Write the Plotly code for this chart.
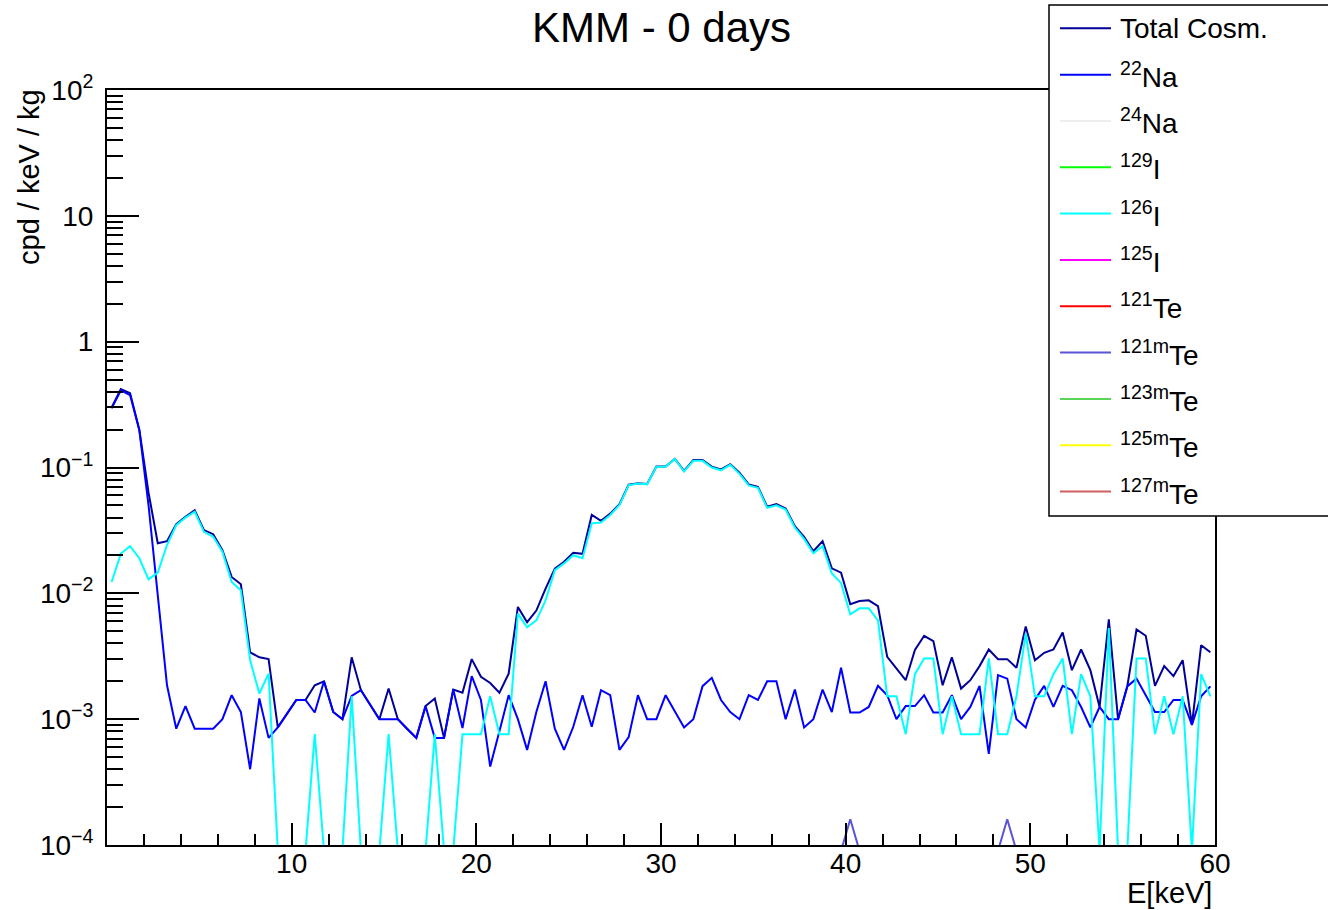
import plotly.graph_objects as go

# ---------------- data ----------------
BIN_WIDTH = 0.5  # keV
N_BINS = 120
energy = [BIN_WIDTH * (i + 0.5) for i in range(N_BINS)]  # bin centres, keV

total_cosm = [
    0.30, 0.42, 0.39, 0.20, 0.063, 0.025, 0.026, 0.0355, 0.0405, 0.0458,
    0.0318, 0.0295, 0.022, 0.0135, 0.0118, 0.0034, 0.0031, 0.0030, 0.00086, 0.0011,
    0.00142, 0.00142, 0.00186, 0.0020, 0.00114, 0.0010, 0.0031, 0.0017, 0.00129, 0.0010,
    0.00175, 0.0010, 0.00084, 0.00071, 0.00127, 0.00146, 0.00071, 0.00172, 0.00162, 0.0030,
    0.00217, 0.00194, 0.00162, 0.0023, 0.0078, 0.0059, 0.0073, 0.0109, 0.0157, 0.0178,
    0.021, 0.0206, 0.042, 0.0377, 0.043, 0.051, 0.073, 0.075, 0.074, 0.102,
    0.102, 0.117, 0.094, 0.1146, 0.1146, 0.1016, 0.0966, 0.106, 0.0908, 0.0734,
    0.0703, 0.0488, 0.0512, 0.0473, 0.0342, 0.0281, 0.0216, 0.026, 0.0158, 0.0146,
    0.0082, 0.0087, 0.0088, 0.0079, 0.00313, 0.00253, 0.00204, 0.00355, 0.0046, 0.00417,
    0.00186, 0.0031, 0.00175, 0.00204, 0.00264, 0.00358, 0.0030, 0.0030, 0.00256, 0.00545,
    0.00294, 0.00337, 0.00358, 0.00488, 0.00245, 0.00358, 0.00245, 0.00125, 0.0062, 0.0010,
    0.00182, 0.00516, 0.0046, 0.00184, 0.00264, 0.0022, 0.00294, 0.0009, 0.00387, 0.0034,
]

na22 = [
    0.295, 0.41, 0.376, 0.198, 0.05, 0.0095, 0.00186, 0.00084, 0.00127, 0.00084,
    0.00084, 0.00084, 0.0010, 0.00155, 0.00114, 0.0004, 0.00146, 0.00071, 0.00086, 0.0011,
    0.00142, 0.00142, 0.00113, 0.0020, 0.00114, 0.0010, 0.00153, 0.0017, 0.00129, 0.0010,
    0.0010, 0.0010, 0.00084, 0.00071, 0.00127, 0.00071, 0.00071, 0.00172, 0.00085, 0.0022,
    0.00142, 0.00042, 0.0008, 0.00155, 0.0010, 0.00057, 0.00114, 0.0020, 0.00084, 0.00057,
    0.00087, 0.00155, 0.00087, 0.0017, 0.00155, 0.00057, 0.00072, 0.00155, 0.0010, 0.0010,
    0.00155, 0.00116, 0.00086, 0.0010, 0.00183, 0.00213, 0.00142, 0.00114, 0.0010, 0.00155,
    0.00142, 0.0020, 0.0020, 0.0010, 0.00172, 0.00086, 0.0010, 0.00172, 0.00114, 0.00256,
    0.00113, 0.00113, 0.00125, 0.00184, 0.00155, 0.0010, 0.00127, 0.00127, 0.00155, 0.00113,
    0.00113, 0.00155, 0.0010, 0.00125, 0.00184, 0.00053, 0.00224, 0.0021, 0.0010, 0.00086,
    0.00143, 0.00184, 0.00125, 0.00184, 0.0017, 0.00125, 0.00086, 0.00125, 0.0010, 0.0010,
    0.00182, 0.0021, 0.00154, 0.00114, 0.00114, 0.00142, 0.00142, 0.0009, 0.00152, 0.00182,
]

i126 = [
    0.0123, 0.0207, 0.0237, 0.019, 0.0129, 0.0146, 0.0242, 0.0348, 0.040, 0.0445,
    0.0308, 0.0282, 0.0214, 0.0123, 0.0106, 0.00294, 0.0016, 0.0023, 0, 0,
    0, 0, 0.00076, 0, 0, 0, 0.00152, 0, 0, 0,
    0.00076, 0, 0, 0, 0, 0.00076, 0, 0, 0.00076, 0.00076,
    0.00076, 0.00152, 0.00076, 0.00076, 0.0069, 0.00536, 0.0061, 0.0088, 0.0153, 0.0173,
    0.0201, 0.019, 0.036, 0.0366, 0.042, 0.0503, 0.0724, 0.0745, 0.0735, 0.1016,
    0.1016, 0.117, 0.093, 0.113, 0.113, 0.100, 0.095, 0.105, 0.089, 0.072,
    0.069, 0.0478, 0.050, 0.0463, 0.0333, 0.0271, 0.0208, 0.0237, 0.0144, 0.0121,
    0.0068, 0.0076, 0.0076, 0.0061, 0.00152, 0.00152, 0.00076, 0.00228, 0.00304, 0.00304,
    0.00076, 0.00152, 0.00076, 0.00076, 0.00076, 0.00304, 0.00076, 0.00076, 0.00152, 0.0048,
    0.00152, 0.00152, 0.00228, 0.00304, 0.00076, 0.00228, 0.00152, 0, 0.0053, 0,
    0, 0.00304, 0.00304, 0.00076, 0.00152, 0.00076, 0.00152, 0, 0.00228, 0.00152,
]

te121m = [0.0] * N_BINS
te121m[80] = 0.00016   # 40.25 keV
te121m[97] = 0.00016   # 48.75 keV

na24 = [0.0] * N_BINS
i129 = [0.0] * N_BINS
i125 = [0.0] * N_BINS
te121 = [0.0] * N_BINS
te123m = [0.0] * N_BINS
te125m = [0.0] * N_BINS
te127m = [0.0] * N_BINS

series_names = ["Total Cosm.", "<sup>22</sup>Na", "<sup>24</sup>Na", "<sup>129</sup>I",
                "<sup>126</sup>I", "<sup>125</sup>I", "<sup>121</sup>Te",
                "<sup>121m</sup>Te", "<sup>123m</sup>Te", "<sup>125m</sup>Te",
                "<sup>127m</sup>Te"]
series_values = [total_cosm, na22, na24, i129, i126, i125, te121,
                 te121m, te123m, te125m, te127m]
series_colors = ["#000099", "#0000ff", "#eeeeee", "#00ff00", "#00ffff", "#ff00ff",
                 "#ff0000", "#5954d8", "#59d454", "#ffff00", "#cf5e61"]

y_tick_vals = [1e-4, 1e-3, 1e-2, 1e-1, 1, 10, 100]
y_tick_text = ["10<sup>−4</sup>", "10<sup>−3</sup>", "10<sup>−2</sup>",
               "10<sup>−1</sup>", "1", "10", "10<sup>2</sup>"]
x_tick_vals = [10, 20, 30, 40, 50, 60]
x_tick_text = ["10", "20", "30", "40", "50", "60"]

# ---------------- layout geometry (pixels) ----------------
W, H = 1328, 910
L, R, T, B = 107, 113, 90, 65
PW, PH = W - L - R, H - T - B
FLOOR = 9e-5   # empty bins drawn down to the bottom of the frame (like ROOT)


def px(xp):
    return (xp - L) / PW


def py(yp):
    return (H - B - yp) / PH


FONT = "Liberation Sans, Arial, Helvetica, sans-serif"

fig = go.Figure()
for name, vals, col in zip(series_names, series_values, series_colors):
    fig.add_trace(go.Scatter(
        x=energy, y=[max(v, FLOOR) for v in vals], mode="lines", name=name,
        line=dict(color=col, width=2), showlegend=False,
        hoverinfo="x+y+name"))

minor_y = [m * 10.0 ** e for e in range(-4, 2) for m in range(2, 10)]
minor_x = [v for v in range(2, 60, 2) if v % 10 != 0]

fig.update_layout(
    width=W, height=H, autosize=False,
    margin=dict(l=L, r=R, t=T, b=B, pad=0),
    paper_bgcolor="white", plot_bgcolor="white",
    font=dict(family=FONT, color="black", size=28),
    showlegend=False,
    xaxis=dict(range=[0, 60], showgrid=False, zeroline=False,
               showline=True, linecolor="black", linewidth=2, mirror=True,
               ticks="inside", ticklen=22, tickwidth=1.5, tickcolor="black",
               tickmode="array", tickvals=x_tick_vals, ticktext=x_tick_text,
               tickfont=dict(size=28),
               minor=dict(tickmode="array", tickvals=minor_x, ticks="inside",
                          ticklen=11, tickwidth=1.5, tickcolor="black")),
    yaxis=dict(type="log", range=[-4, 2], showgrid=False, zeroline=False,
               showline=True, linecolor="black", linewidth=2, mirror=True,
               ticks="inside", ticklen=32, tickwidth=1.5, tickcolor="black",
               tickmode="array", tickvals=y_tick_vals, ticktext=y_tick_text,
               tickfont=dict(size=28), ticklabelstandoff=6,
               minor=dict(tickmode="array", tickvals=minor_y, ticks="inside",
                          ticklen=16, tickwidth=1.5, tickcolor="black")),
)
try:
    fig.update_xaxes(ticklabelstandoff=-8)
except Exception:
    fig.update_xaxes(ticklabelstandoff=0)

annotations = [
    dict(text="KMM - 0 days", x=0.5, y=py(27), xref="paper", yref="paper",
         xanchor="center", yanchor="middle", showarrow=False,
         font=dict(size=42, family=FONT)),
    dict(text="E[keV]", x=px(1214), y=py(893), xref="paper", yref="paper",
         xanchor="right", yanchor="middle", showarrow=False,
         font=dict(size=29, family=FONT)),
    dict(text="cpd / keV / kg", x=px(29), y=py(177), xref="paper", yref="paper",
         xanchor="center", yanchor="middle", textangle=-90, showarrow=False,
         font=dict(size=29, family=FONT)),
]

shapes = [dict(type="rect", xref="paper", yref="paper",
               x0=px(1049), x1=px(1345), y0=py(516), y1=py(5),
               line=dict(color="black", width=1.5), fillcolor="white",
               layer="above")]

ROW0, ROW_STEP = 28.3, 46.33
for i, (name, col) in enumerate(zip(series_names, series_colors)):
    yrow = ROW0 + i * ROW_STEP
    shapes.append(dict(type="line", xref="paper", yref="paper",
                       x0=px(1060), x1=px(1111), y0=py(yrow), y1=py(yrow),
                       line=dict(color=col, width=2), layer="above"))
    annotations.append(dict(text=name, x=px(1118), y=py(yrow), xref="paper",
                            yref="paper", xanchor="left", yanchor="middle",
                            showarrow=False, font=dict(size=28, family=FONT)))

fig.update_layout(annotations=annotations, shapes=shapes)

fig.write_html(
    "out.html",
    config={"displayModeBar": False},
    post_script="document.body.style.margin='0px';"
                "document.body.style.overflow='hidden';",
)
